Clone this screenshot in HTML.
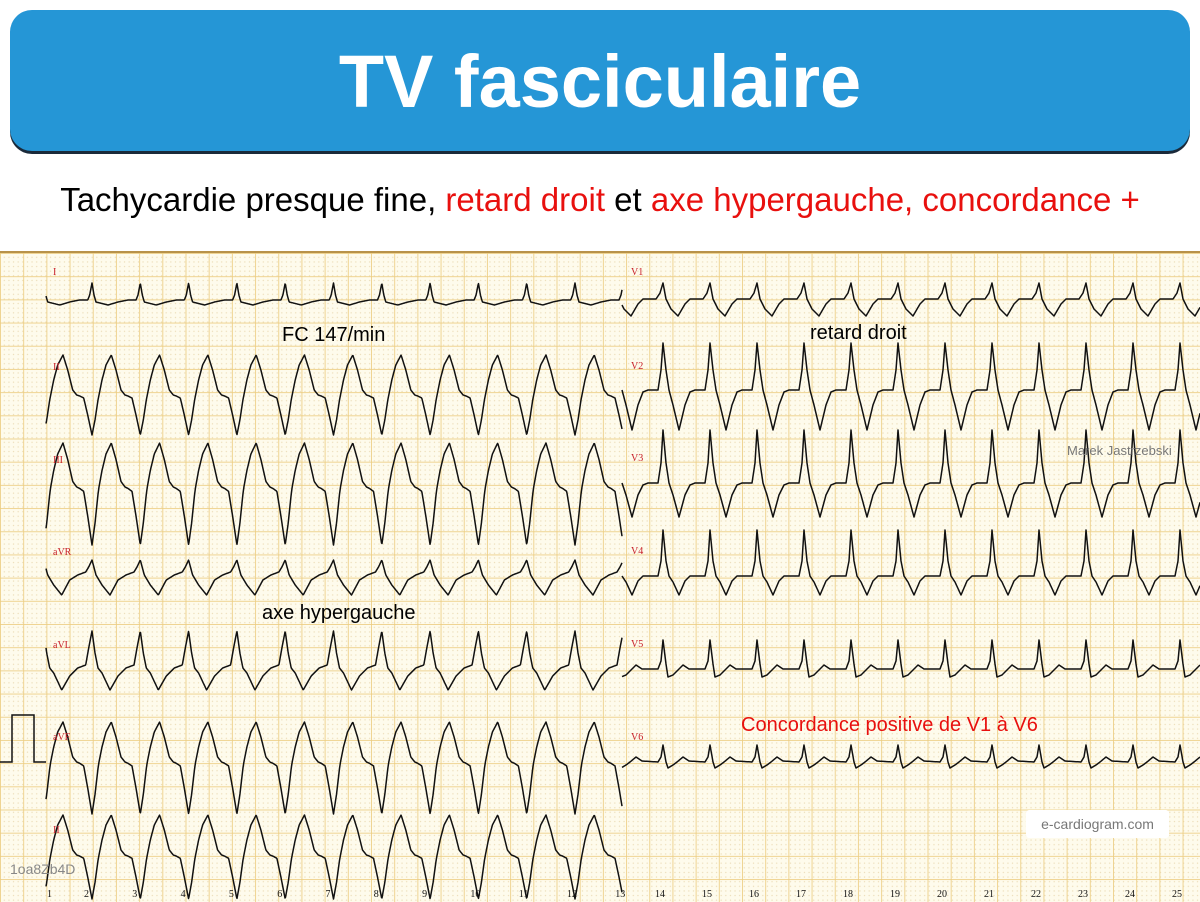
<!DOCTYPE html>
<html><head><meta charset="utf-8">
<style>
html,body{margin:0;padding:0;}
body{width:1200px;height:900px;position:relative;overflow:hidden;background:#fff;font-family:"Liberation Sans",sans-serif;}
#hdr{position:absolute;left:10px;top:10px;width:1180px;height:141px;background:#2596d6;border-radius:22px;box-shadow:0 3px 0 #1a2a3a;}
#hdr div{position:absolute;left:0;right:0;top:32px;text-align:center;color:#fff;font-weight:bold;font-size:74px;line-height:80px;}
#sub{position:absolute;left:0;right:0;top:181px;text-align:center;font-size:33px;color:#000;}
.r{color:#e8100e;}
#grid{position:absolute;left:0;top:251px;width:1200px;height:649px;border-top:2px solid #b8924a;
background-color:#fefbec;
background-image:
linear-gradient(to right, rgba(236,205,130,0.85) 1px, transparent 1px),
linear-gradient(to bottom, rgba(236,205,130,0.85) 1px, transparent 1px),
radial-gradient(circle, rgba(220,195,140,0.55) 0.6px, transparent 0.8px);
background-size:23.2px 23.2px,23.2px 23.2px,4.64px 4.64px;
background-position:0 0,0 0,2px 2px;}
svg{position:absolute;left:0;top:0;}
.t{position:absolute;font-size:20px;color:#000;white-space:nowrap;}
</style></head><body>
<div id="hdr"><div>TV fasciculaire</div></div>
<div id="sub">Tachycardie presque fine, <span class="r">retard droit</span> et <span class="r">axe hypergauche, concordance +</span></div>
<div id="grid"></div>
<svg id="s" width="1200" height="900" xmlns="http://www.w3.org/2000/svg"></svg>
<div class="t" style="left:282px;top:324px;">FC 147/min</div>
<div class="t" style="left:810px;top:322px;">retard droit</div>
<div class="t" style="left:262px;top:602px;">axe hypergauche</div>
<div class="t" style="left:741px;top:714px;color:#e8100e;">Concordance positive de V1 à V6</div>
<div class="t" style="left:1067px;top:443px;font-size:13px;color:#777;">Marek Jastrzebski</div>
<div style="position:absolute;left:1026px;top:810px;width:143px;height:28px;background:#fff;border-radius:3px;color:#777;font-size:14px;line-height:28px;text-align:center;">e-cardiogram.com</div>
<div class="t" style="left:10px;top:861px;font-size:14px;color:#888;">1oa8Zb4D</div>
<script>
var s=document.getElementById('s');var h='';
function tr(x0,x1,base,P0,per,pts,su,sd){
  var d='';
  for(var x=x0;x<=x1;x+=0.5){
    var ph=((x-P0)%per+per)%per;var v=0;
    for(var i=0;i<pts.length-1;i++){var a=pts[i],b=pts[i+1];if(ph>=a[0]&&ph<=b[0]){var f=(ph-a[0])/(b[0]-a[0]||1);v=a[1]+(b[1]-a[1])*f;break;}}
    v=v<0?v*su:v*sd;
    d+=(d?'L':'M')+x.toFixed(1)+' '+(base+v).toFixed(1);
  }
  h+='<path d="'+d+'" fill="none" stroke="#111" stroke-width="1.5" stroke-linejoin="round"/>';
}
var LP=48.3,RP=47;
var II=[[0,40],[3,25],[6,5],[10,-15],[14,-30],[19.3,-40],[24,-25],[29,-5],[33,0],[36,1],[40,3],[44,20],[48.3,40]];
var I=[[0,-17],[2,-5],[4,2],[8,3],[16,5],[26,2],[36,0],[44,0],[46,-5],[48.3,-17]];
var AVR=[[0,-15],[4,0],[10,10],[18,20],[26,5],[34,0],[42,-3],[45,-8],[48.3,-15]];
var AVL=[[0,-37],[3,-15],[6,0],[10,5],[18,22],[26,8],[34,0],[42,-3],[45,-20],[48.3,-37]];
tr(46,622,300,92,LP,I,1,1);
tr(46,622,395,92,LP,II,1,1);
tr(46,622,487,92,LP,II,1.1,1.45);
tr(46,622,575,92,LP,AVR,1,1);
tr(46,622,668,92,LP,AVL,1,1);
tr(46,622,762,92,LP,II,1,1.3);
tr(46,622,855,92,LP,II,1,1.1);
var V1=[[0,-16],[3,0],[8,10],[15,17],[22,5],[27,0],[40,0],[44,-6],[47,-16]];
var V2=[[0,-47],[3,-20],[6,0],[10,15],[16,40],[22,15],[27,2],[32,0],[42,0],[45,-20],[47,-47]];
var V3=[[0,-53],[3,-20],[6,0],[10,12],[16,34],[22,12],[27,2],[32,0],[42,0],[45,-20],[47,-53]];
var V4=[[0,-46],[3,-15],[6,0],[10,6],[16,19],[22,5],[27,0],[32,0],[42,0],[45,-15],[47,-46]];
var V5=[[0,-29],[3,-5],[5,8],[10,6],[14,2],[20,-4],[26,0],[42,0],[45,-8],[47,-29]];
var V6=[[0,-17],[3,0],[5,6],[10,3],[14,0],[20,-5],[26,-1],[42,0],[45,-5],[47,-17]];
tr(622,1200,299,663,RP,V1,1,1);
tr(622,1200,390,663,RP,V2,1,1);
tr(622,1200,483,663,RP,V3,1,1);
tr(622,1200,576,663,RP,V4,1,1);
tr(622,1200,669,663,RP,V5,1,1);
tr(622,1200,762,663,RP,V6,1,1);
h+='<path d="M0 762 L12 762 L12 715 L34 715 L34 762 L46 762" fill="none" stroke="#111" stroke-width="1.5"/>';
var lab=[['I',53,275],['II',53,370],['III',53,463],['aVR',53,555],['aVL',53,648],['aVF',53,740],['II',53,833],['V1',631,275],['V2',631,369],['V3',631,461],['V4',631,554],['V5',631,647],['V6',631,740]];
lab.forEach(function(l){h+='<text x="'+l[1]+'" y="'+l[2]+'" font-family="Liberation Serif,serif" font-size="10" fill="#c8202a">'+l[0]+'</text>';});
h+='<text x="47" y="897" font-family="Liberation Serif,serif" font-size="10" fill="#111">1</text>';
for(var n=2;n<=13;n++){h+='<text x="'+(84+48.3*(n-2)).toFixed(1)+'" y="897" font-family="Liberation Serif,serif" font-size="10" fill="#111">'+n+'</text>';}
for(var n=14;n<=25;n++){h+='<text x="'+(655+47*(n-14))+'" y="897" font-family="Liberation Serif,serif" font-size="10" fill="#111">'+n+'</text>';}
s.innerHTML=h;
</script>
</body></html>
